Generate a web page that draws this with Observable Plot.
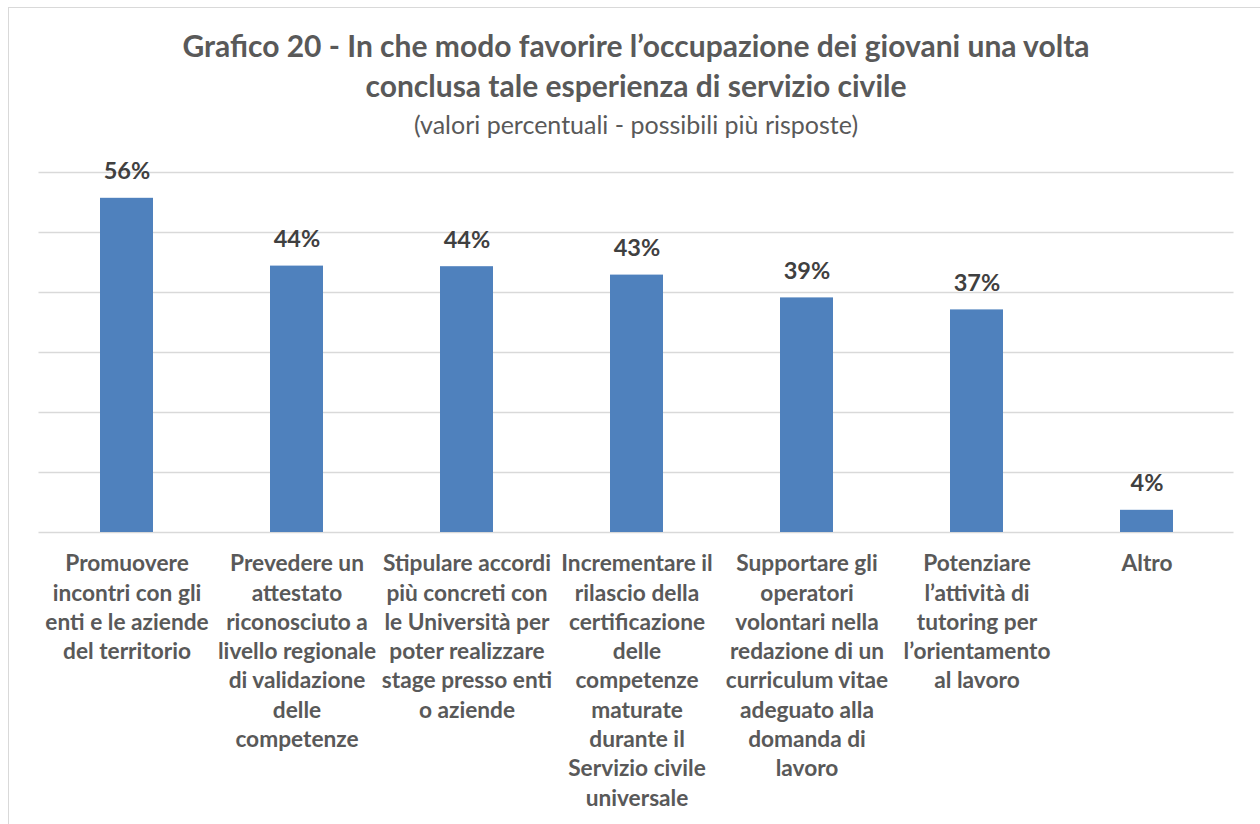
<!DOCTYPE html>
<html><head><meta charset="utf-8">
<script src="https://cdn.jsdelivr.net/npm/d3@7"></script>
<script src="https://cdn.jsdelivr.net/npm/@observablehq/plot@0.6"></script>
<style>
body{margin:0;background:#fff;width:1260px;height:824px;overflow:hidden;position:relative;font-family:Lato,sans-serif}
#frame{position:absolute;left:8px;top:7px;width:1300px;height:900px;border:1px solid #d9d9d9;}
#title{position:absolute;left:8px;width:1256px;top:25px;text-align:center;font-weight:700;font-size:30px;line-height:40px;color:#595959}
#sub{position:absolute;left:8px;width:1256px;top:109px;text-align:center;font-size:25px;line-height:30px;color:#595959}
#chart{position:absolute;left:0;top:140px}
</style></head><body>
<div id="frame"></div>
<div id="title">Grafico 20 - In che modo favorire l’occupazione dei giovani una volta<br>conclusa tale esperienza di servizio civile</div>
<div id="sub">(valori percentuali - possibili più risposte)</div>
<div id="chart"></div>
<script>
const categories = [
  "Promuovere incontri con gli enti e le aziende del territorio",
  "Prevedere un attestato riconosciuto a livello regionale di validazione delle competenze",
  "Stipulare accordi più concreti con le Università per poter realizzare stage presso enti o aziende",
  "Incrementare il rilascio della certificazione delle competenze maturate durante il Servizio civile universale",
  "Supportare gli operatori volontari nella redazione di un curriculum vitae adeguato alla domanda di lavoro",
  "Potenziare l’attività di tutoring per l’orientamento al lavoro",
  "Altro"
];
const tickLabels = [
  "Promuovere\nincontri con gli\nenti e le aziende\ndel territorio",
  "Prevedere un\nattestato\nriconosciuto a\nlivello regionale\ndi validazione\ndelle\ncompetenze",
  "Stipulare accordi\npiù concreti con\nle Università per\npoter realizzare\nstage presso enti\no aziende",
  "Incrementare il\nrilascio della\ncertificazione\ndelle\ncompetenze\nmaturate\ndurante il\nServizio civile\nuniversale",
  "Supportare gli\noperatori\nvolontari nella\nredazione di un\ncurriculum vitae\nadeguato alla\ndomanda di\nlavoro",
  "Potenziare\nl’attività di\ntutoring per\nl’orientamento\nal lavoro",
  "Altro"
];
const values = [55.7, 44.4, 44.3, 42.9, 39.1, 37.1, 3.7];
const valueLabels = ["56%", "44%", "44%", "43%", "39%", "37%", "4%"];
const gridTicks = [0, 10, 20, 30, 40, 50, 60];

const data = categories.map((c, i) => ({cat: c, value: values[i], label: valueLabels[i], tick: tickLabels[i]}));

const chart = Plot.plot({
  width: 1260,
  height: 684,
  marginTop: 32,
  marginBottom: 292,
  marginLeft: 38.5,
  marginRight: 26.5,
  style: {fontFamily: "Lato, sans-serif", background: "transparent"},
  x: {domain: categories, paddingInner: 0.69, paddingOuter: 0.345, axis: null},
  y: {domain: [0, 60], axis: null},
  marks: [
    Plot.ruleY(gridTicks, {stroke: "#d9d9d9", strokeWidth: 1.5}),
    Plot.barY(data, {x: "cat", y: "value", fill: "#4f81bd"}),
    Plot.text(data, {x: "cat", y: "value", text: "label", lineAnchor: "bottom", dy: -19, fontSize: 23.5, fontWeight: 700, fill: "#404040"}),
    Plot.text(data, {x: "cat", y: 0, text: "tick", lineAnchor: "top", dy: 18, lineHeight: 1.29, fontSize: 22.7, fontWeight: 700, fill: "#595959"})
  ]
});
document.getElementById("chart").appendChild(chart);
</script>
</body></html>
